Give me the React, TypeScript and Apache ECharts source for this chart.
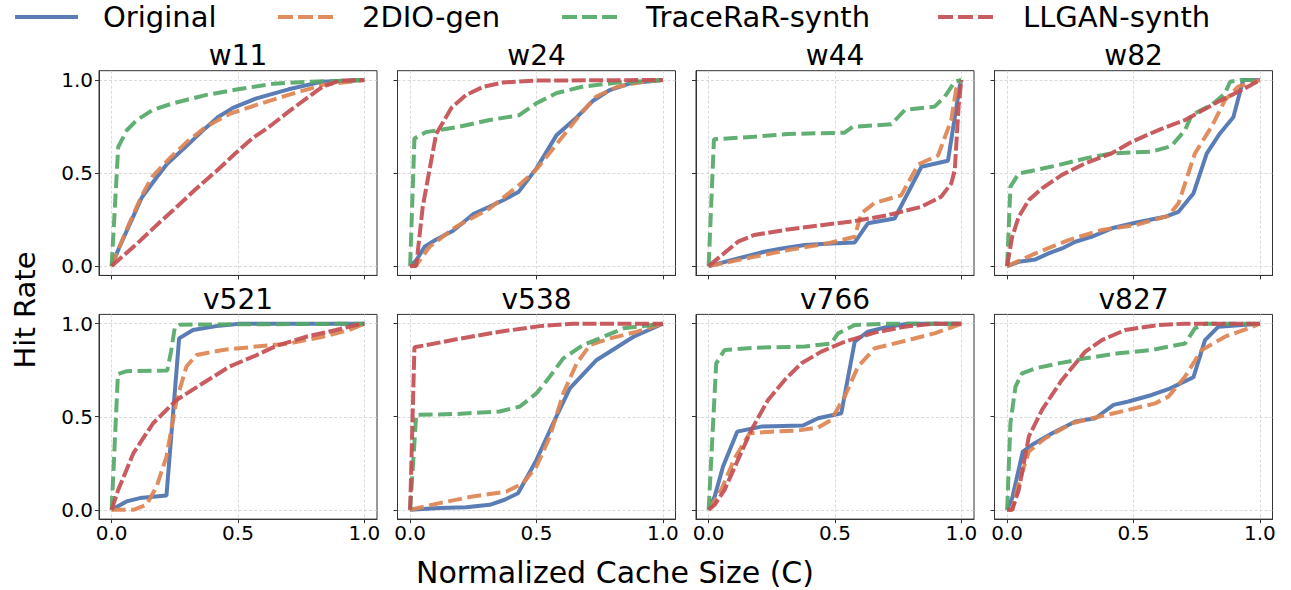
import React, { useEffect, useRef } from 'react';
import * as echarts from 'echarts';

const PANEL_NAMES = ['w11', 'w24', 'w44', 'w82', 'v521', 'v538', 'v766', 'v827'];
const SERIES_NAMES = ['Original', '2DIO-gen', 'TraceRaR-synth', 'LLGAN-synth'];
const TICKS = [0, 0.5, 1];
const X_LABEL = 'Normalized Cache Size (C)';
const Y_LABEL = 'Hit Rate';

const w11Original = [[0,0],[0.03,0.1],[0.07,0.22],[0.12,0.37],[0.18,0.48],[0.22,0.55],[0.3,0.65],[0.37,0.74],[0.42,0.8],[0.48,0.85],[0.57,0.9],[0.7,0.95],[0.83,0.99],[1,1]];
const w11Gen = [[0,0],[0.03,0.1],[0.07,0.23],[0.12,0.38],[0.16,0.48],[0.23,0.58],[0.3,0.67],[0.375,0.75],[0.47,0.82],[0.57,0.865],[0.7,0.92],[0.84,0.975],[1,1]];
const w11Trace = [[0,0],[0.026,0.64],[0.06,0.73],[0.1,0.785],[0.164,0.84],[0.243,0.875],[0.375,0.92],[0.5,0.95],[0.64,0.98],[0.77,0.99],[1,1]];
const w11Llgan = [[0,0],[0.1,0.12],[0.178,0.22],[0.243,0.3],[0.33,0.41],[0.414,0.51],[0.49,0.606],[0.56,0.69],[0.625,0.75],[0.7,0.83],[0.77,0.9],[0.836,0.965],[0.9,0.995],[1,1]];

const w24Original = [[0,0],[0.024,0.03],[0.057,0.104],[0.1,0.14],[0.17,0.19],[0.25,0.28],[0.315,0.32],[0.37,0.355],[0.43,0.4],[0.5,0.525],[0.58,0.705],[0.66,0.8],[0.725,0.89],[0.79,0.946],[0.87,0.982],[1,1]];
const w24Gen = [[0,0],[0.024,0.005],[0.077,0.104],[0.18,0.21],[0.315,0.31],[0.435,0.44],[0.5,0.52],[0.606,0.7],[0.67,0.81],[0.735,0.91],[0.82,0.964],[0.92,0.99],[1,1]];
const w24Trace = [[0,0],[0.017,0.686],[0.063,0.72],[0.18,0.745],[0.315,0.785],[0.43,0.81],[0.5,0.875],[0.58,0.93],[0.685,0.965],[0.82,0.986],[1,1]];
const w24Llgan = [[0,0],[0.024,0],[0.05,0.32],[0.077,0.52],[0.103,0.71],[0.163,0.85],[0.222,0.92],[0.29,0.964],[0.368,0.987],[0.5,0.997],[1,1]];

const w44Original = [[0,0],[0.116,0.041],[0.22,0.077],[0.29,0.095],[0.38,0.113],[0.485,0.122],[0.578,0.127],[0.63,0.23],[0.736,0.256],[0.842,0.534],[0.947,0.566],[0.993,0.964],[1,1]];
const w44Gen = [[0,0],[0.18,0.05],[0.314,0.086],[0.47,0.122],[0.578,0.158],[0.604,0.283],[0.657,0.34],[0.762,0.38],[0.83,0.547],[0.908,0.595],[0.96,0.785],[0.98,0.955],[1,1]];
const w44Trace = [[0,0],[0.021,0.681],[0.18,0.695],[0.314,0.71],[0.538,0.717],[0.571,0.749],[0.723,0.762],[0.776,0.839],[0.894,0.857],[0.934,0.91],[0.974,0.991],[1,1]];
const w44Llgan = [[0,0],[0.116,0.131],[0.18,0.167],[0.314,0.197],[0.446,0.22],[0.578,0.242],[0.71,0.274],[0.842,0.319],[0.92,0.373],[0.96,0.444],[0.974,0.516],[0.989,0.857],[1,1]];

const w82Original = [[0,0],[0.046,0.023],[0.112,0.036],[0.164,0.068],[0.217,0.095],[0.27,0.131],[0.336,0.158],[0.414,0.203],[0.507,0.233],[0.625,0.265],[0.678,0.292],[0.737,0.39],[0.79,0.606],[0.842,0.713],[0.895,0.8],[0.934,1],[1,1]];
const w82Gen = [[0,0],[0.112,0.068],[0.243,0.14],[0.375,0.194],[0.507,0.22],[0.638,0.27],[0.678,0.337],[0.743,0.606],[0.809,0.749],[0.862,0.892],[0.914,0.964],[1,1]];
const w82Trace = [[0,0],[0.013,0.427],[0.046,0.498],[0.112,0.516],[0.204,0.543],[0.31,0.579],[0.414,0.606],[0.572,0.615],[0.65,0.645],[0.704,0.731],[0.73,0.812],[0.809,0.866],[0.862,0.928],[0.882,0.991],[0.928,1],[1,1]];
const w82Llgan = [[0,0],[0.02,0.158],[0.046,0.265],[0.086,0.355],[0.138,0.418],[0.217,0.49],[0.309,0.552],[0.414,0.606],[0.493,0.668],[0.599,0.731],[0.704,0.785],[0.836,0.884],[0.928,0.946],[1,1]];

const v521Original = [[0,0],[0.059,0.045],[0.112,0.063],[0.217,0.077],[0.267,0.921],[0.322,0.966],[0.414,0.987],[0.507,1],[1,1]];
const v521Gen = [[0,0],[0.086,0],[0.138,0.027],[0.178,0.125],[0.217,0.286],[0.257,0.59],[0.296,0.77],[0.336,0.832],[0.44,0.859],[0.572,0.877],[0.704,0.894],[0.836,0.93],[0.94,0.966],[1,1]];
const v521Trace = [[0,0],[0.025,0.73],[0.06,0.745],[0.22,0.748],[0.235,0.85],[0.25,0.98],[0.27,0.995],[1,1]];
const v521Llgan = [[0,0],[0.026,0.107],[0.086,0.304],[0.164,0.465],[0.257,0.59],[0.349,0.67],[0.467,0.77],[0.572,0.83],[0.65,0.88],[0.77,0.93],[0.888,0.966],[0.967,0.993],[1,1]];

const v538Original = [[0,0],[0.116,0.009],[0.222,0.014],[0.315,0.027],[0.374,0.054],[0.427,0.089],[0.5,0.268],[0.566,0.465],[0.632,0.653],[0.738,0.805],[0.884,0.93],[1,1]];
const v538Gen = [[0,0],[0.116,0.036],[0.249,0.072],[0.381,0.098],[0.447,0.143],[0.5,0.233],[0.553,0.394],[0.606,0.626],[0.659,0.787],[0.712,0.886],[0.791,0.921],[0.897,0.957],[1,1]];
const v538Trace = [[0,0],[0.024,0.51],[0.183,0.515],[0.354,0.528],[0.434,0.555],[0.5,0.626],[0.553,0.716],[0.606,0.814],[0.685,0.886],[0.765,0.93],[0.844,0.975],[1,1]];
const v538Llgan = [[0,0],[0.017,0.873],[0.183,0.916],[0.354,0.957],[0.513,0.987],[0.645,1],[1,1]];

const v766Original = [[0,0],[0.024,0.072],[0.057,0.233],[0.113,0.42],[0.208,0.447],[0.373,0.453],[0.433,0.492],[0.525,0.519],[0.578,0.903],[0.63,0.957],[0.71,0.984],[0.789,1],[1,1]];
const v766Gen = [[0,0],[0.05,0.107],[0.103,0.277],[0.162,0.411],[0.248,0.42],[0.354,0.426],[0.433,0.442],[0.485,0.483],[0.538,0.608],[0.591,0.769],[0.657,0.868],[0.763,0.903],[0.894,0.948],[1,1]];
const v766Trace = [[0,0],[0.03,0.787],[0.063,0.859],[0.182,0.871],[0.38,0.877],[0.485,0.894],[0.512,0.948],[0.578,0.993],[0.71,1],[1,1]];
const v766Llgan = [[0,0],[0.024,0.027],[0.063,0.107],[0.116,0.268],[0.169,0.429],[0.235,0.59],[0.301,0.698],[0.367,0.787],[0.446,0.85],[0.538,0.903],[0.657,0.952],[0.776,0.984],[0.894,1],[1,1]];

const v827Original = [[0,0],[0.02,0.063],[0.062,0.313],[0.099,0.349],[0.178,0.411],[0.27,0.474],[0.349,0.492],[0.421,0.564],[0.48,0.582],[0.572,0.617],[0.638,0.648],[0.678,0.674],[0.737,0.712],[0.783,0.912],[0.836,0.984],[1,1]];
const v827Gen = [[0,0],[0.02,0],[0.046,0.143],[0.086,0.313],[0.151,0.385],[0.257,0.465],[0.362,0.5],[0.48,0.537],[0.586,0.572],[0.638,0.608],[0.704,0.716],[0.77,0.859],[0.862,0.93],[0.954,0.975],[1,1]];
const v827Trace = [[0,0],[0.013,0.465],[0.033,0.662],[0.059,0.733],[0.112,0.76],[0.204,0.787],[0.309,0.814],[0.441,0.841],[0.572,0.859],[0.704,0.894],[0.743,0.975],[0.783,1],[1,1]];
const v827Llgan = [[0,0],[0.02,0],[0.046,0.107],[0.086,0.394],[0.138,0.537],[0.217,0.698],[0.309,0.85],[0.375,0.912],[0.467,0.966],[0.599,0.993],[0.704,1],[1,1]];

const PANEL_DATA = [
  [w11Original, w11Gen, w11Trace, w11Llgan],
  [w24Original, w24Gen, w24Trace, w24Llgan],
  [w44Original, w44Gen, w44Trace, w44Llgan],
  [w82Original, w82Gen, w82Trace, w82Llgan],
  [v521Original, v521Gen, v521Trace, v521Llgan],
  [v538Original, v538Gen, v538Trace, v538Llgan],
  [v766Original, v766Gen, v766Trace, v766Llgan],
  [v827Original, v827Gen, v827Trace, v827Llgan],
];

const COLORS = ['#4c72b0', '#dd8452', '#55a868', '#c44e52'];
const DASHES: any[] = ['solid', [14, 5.5], [14, 5.5], [14, 3.5]];
const LEGEND_DASHES: any[] = [null, [15, 5], [15, 5], [15, 5]];
const FONT = 'DejaVu Sans';

const LEFTS = [99, 397.5, 696, 994.5];
const TOPS = [70.7, 314.4];
const W = 278;
const H = 204.7;

const LEGEND_LINE_X = [[15, 78], [278, 336], [562, 622], [938, 996]];
const LEGEND_TEXT_X = [103, 362, 646, 1023];

export default function App() {
  const ref = useRef<HTMLDivElement>(null);
  useEffect(() => {
    if (!ref.current) return;
    const chart = echarts.init(ref.current, undefined, { renderer: 'svg' });
    const grids: any[] = [];
    const xAxes: any[] = [];
    const yAxes: any[] = [];
    const series: any[] = [];
    const graphics: any[] = [];
    PANEL_NAMES.forEach((name, i) => {
      const row = Math.floor(i / 4);
      const col = i % 4;
      grids.push({
        left: LEFTS[col], top: TOPS[row], width: W, height: H,
        show: true, borderColor: '#333', borderWidth: 1, backgroundColor: 'transparent',
      });
      xAxes.push({
        type: 'value', gridIndex: i, min: -0.05, max: 1.05,
        axisLine: { show: true, onZero: false, lineStyle: { color: '#333', width: 1 } },
        axisTick: { show: true, customValues: TICKS, length: 4, lineStyle: { color: '#333', width: 1 } },
        axisLabel: {
          show: row === 1, customValues: TICKS, formatter: (v: number) => v.toFixed(1),
          fontSize: 20, color: '#000', fontFamily: FONT, margin: 4,
        },
        splitLine: { show: true, lineStyle: { color: '#d0d0d0', width: 0.8, type: [3, 2] } },
      });
      yAxes.push({
        type: 'value', gridIndex: i, min: -0.05, max: 1.05,
        axisLine: { show: true, onZero: false, lineStyle: { color: '#333', width: 1 } },
        axisTick: { show: true, customValues: TICKS, length: 4, lineStyle: { color: '#333', width: 1 } },
        axisLabel: {
          show: col === 0, customValues: TICKS, formatter: (v: number) => v.toFixed(1),
          fontSize: 20, color: '#000', fontFamily: FONT, margin: 6,
        },
        splitLine: { show: true, lineStyle: { color: '#d0d0d0', width: 0.8, type: [3, 2] } },
      });
      PANEL_DATA[i].forEach((data, s) => {
        series.push({
          type: 'line', name: SERIES_NAMES[s], xAxisIndex: i, yAxisIndex: i,
          data, showSymbol: false, symbol: 'none', smooth: false,
          lineStyle: { color: COLORS[s], width: 4, type: DASHES[s], opacity: 0.92, cap: 'butt' },
          itemStyle: { color: COLORS[s] }, z: 2 + s,
        });
      });
      graphics.push({
        type: 'text', x: LEFTS[col] + W / 2, y: TOPS[row] - 15, silent: true,
        style: {
          text: name, fontSize: 28, fontFamily: FONT, fill: '#000',
          align: 'center', textAlign: 'center', verticalAlign: 'middle', textVerticalAlign: 'middle',
        },
      });
    });
    SERIES_NAMES.forEach((name, s) => {
      graphics.push({
        type: 'line', silent: true,
        shape: { x1: LEGEND_LINE_X[s][0], y1: 17, x2: LEGEND_LINE_X[s][1], y2: 17 },
        style: { stroke: COLORS[s], lineWidth: 4, lineDash: LEGEND_DASHES[s] || undefined, opacity: 0.92 },
      });
      graphics.push({
        type: 'text', x: LEGEND_TEXT_X[s], y: 17, silent: true,
        style: {
          text: name, fontSize: 29, fontFamily: FONT, fill: '#000',
          align: 'left', textAlign: 'left', verticalAlign: 'middle', textVerticalAlign: 'middle',
        },
      });
    });
    graphics.push({
      type: 'text', x: 615, y: 572, silent: true,
      style: {
        text: X_LABEL, fontSize: 30, fontFamily: FONT, fill: '#000',
        align: 'center', textAlign: 'center', verticalAlign: 'middle', textVerticalAlign: 'middle',
      },
    });
    graphics.push({
      type: 'text', x: 25, y: 310, rotation: Math.PI / 2, silent: true,
      style: {
        text: Y_LABEL, fontSize: 29, fontFamily: FONT, fill: '#000',
        align: 'center', textAlign: 'center', verticalAlign: 'middle', textVerticalAlign: 'middle',
      },
    });
    chart.setOption({
      animation: false,
      backgroundColor: '#fff',
      textStyle: { fontFamily: FONT },
      grid: grids,
      xAxis: xAxes,
      yAxis: yAxes,
      series,
      graphic: graphics,
    });
    return () => chart.dispose();
  }, []);
  return (
    <div
      ref={ref}
      style={{ position: 'fixed', left: 0, top: 0, width: 1291, height: 590, background: '#fff' }}
    />
  );
}
